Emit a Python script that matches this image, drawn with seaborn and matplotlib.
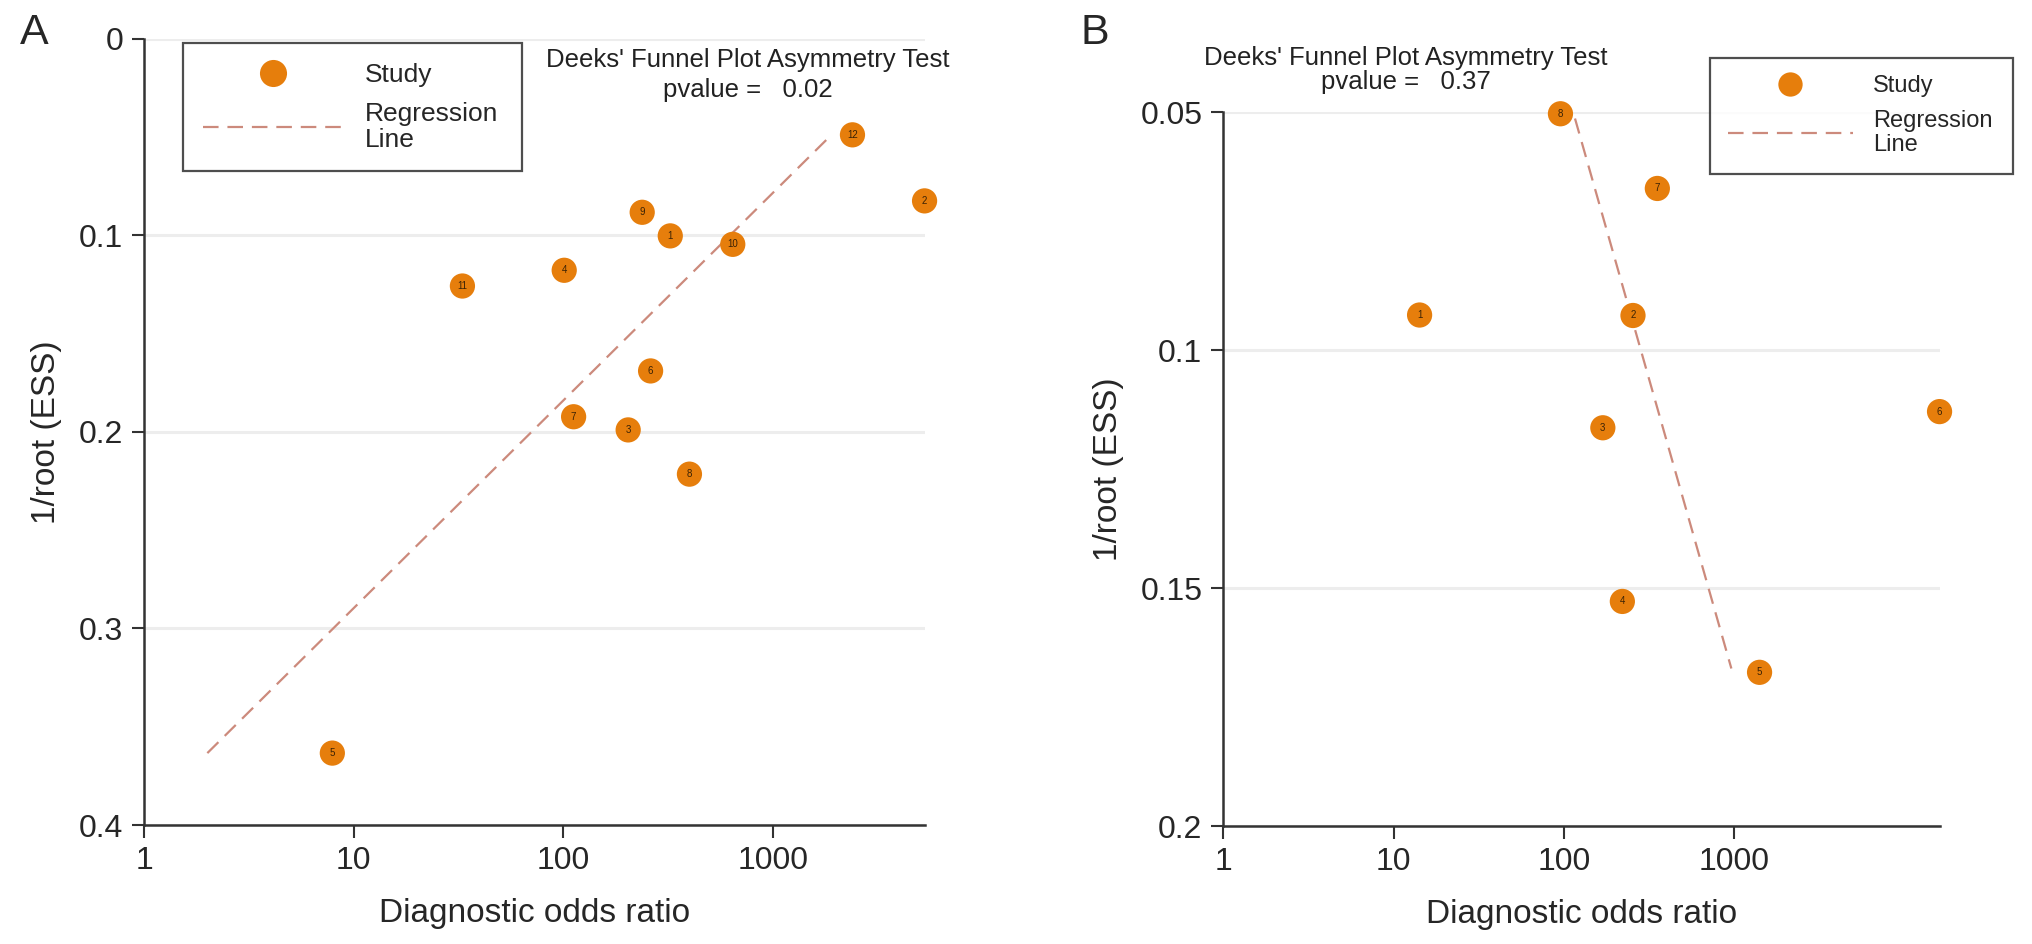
import pandas as pd
import matplotlib
matplotlib.use("Agg")
import matplotlib.pyplot as plt
import seaborn as sns
from matplotlib.lines import Line2D

# Panel A - studies (diagnostic odds ratio, 1/root(ESS))
a_study = ["12", "2", "9", "1", "10", "4", "11", "6", "7", "3", "8", "5"]
a_dor = [2400, 5300, 238, 324, 644, 101, 33, 261, 112, 204, 400, 7.9]
a_ess = [0.0489, 0.0825, 0.0883, 0.1003, 0.1046, 0.1178, 0.1258, 0.169, 0.1923, 0.199, 0.2215, 0.3634]
a_reg_x = [2.0, 1905]
a_reg_y = [0.3634, 0.0489]
a_pvalue = "0.02"

# Panel B
b_study = ["8", "7", "1", "2", "6", "3", "4", "5"]
b_dor = [95.3, 353, 14.2, 254, 16000, 169, 220, 1405]
b_ess = [0.0503, 0.066, 0.0926, 0.0927, 0.1129, 0.1163, 0.1528, 0.1677]
b_reg_x = [116, 960]
b_reg_y = [0.0513, 0.1669]
b_pvalue = "0.37"

sns.set_style("white")
plt.rcParams['font.family'] = ['Liberation Sans', 'DejaVu Sans']

dot_color = "#e67e0c"
reg_color = "#cc8a7c"
grid_color = "#ededed"
spine_color = "#333333"

fig = plt.figure(figsize=(20.32, 9.44), dpi=100)
axA = fig.add_axes([0.071, 0.126, 0.384, 0.833])
axB = fig.add_axes([0.602, 0.125, 0.3525, 0.756])


def funnel(ax, study, dor, ess, reg_x, reg_y, ylim, yticks, ylabels, xmax):
    df = pd.DataFrame({"dor": dor, "ess": ess, "study": study})
    for t in yticks:
        ax.axhline(t, color=grid_color, lw=2.2, zorder=0)
    sns.lineplot(x=reg_x, y=reg_y, ax=ax, color=reg_color, lw=1.6,
                 zorder=2, legend=False)
    ax.lines[-1].set_linestyle((0, (7, 4)))
    sns.scatterplot(data=df, x="dor", y="ess", ax=ax, color=dot_color, s=330,
                    edgecolor="none", zorder=3, clip_on=False, legend=False)
    for _, r in df.iterrows():
        ax.text(r["dor"], r["ess"], r["study"], ha="center", va="center",
                fontsize=7, color="#3b2205", zorder=4)
    ax.set_xscale("log")
    ax.set_xlim(1, xmax)
    ax.set_ylim(ylim[1], ylim[0])
    ax.set_xticks([1, 10, 100, 1000])
    ax.set_xticklabels(["1", "10", "100", "1000"])
    ax.minorticks_off()
    ax.set_yticks(yticks)
    ax.set_yticklabels(ylabels)
    ax.tick_params(axis="both", labelsize=23, length=9, width=1.5,
                   color=spine_color, direction="out", pad=6,
                   bottom=True, left=True)
    for side in ["top", "right"]:
        ax.spines[side].set_visible(False)
    for side in ["left", "bottom"]:
        ax.spines[side].set_color(spine_color)
        ax.spines[side].set_linewidth(1.8)
    ax.set_xlabel("Diagnostic odds ratio", fontsize=24, labelpad=16)
    ax.set_ylabel("1/root (ESS)", fontsize=24, labelpad=12)


funnel(axA, a_study, a_dor, a_ess, a_reg_x, a_reg_y, (0, 0.4),
       [0, 0.1, 0.2, 0.3, 0.4], ["0", "0.1", "0.2", "0.3", "0.4"], 5300)
funnel(axB, b_study, b_dor, b_ess, b_reg_x, b_reg_y, (0.05, 0.2),
       [0.05, 0.1, 0.15, 0.2], ["0.05", "0.1", "0.15", "0.2"], 16000)

labels = ["Study", "Regression\nLine"]

# legend boxes: (x, y, w, h) in figure fraction, font size, marker size
legend_specs = [
    ((0.0900, 0.817, 0.1668, 0.137), 19, 19.5),
    ((0.8415, 0.816, 0.1490, 0.123), 17, 17.5),
]
for bbox, fs, ms in legend_specs:
    handles = [
        Line2D([], [], marker="o", color="none", markerfacecolor=dot_color,
               markeredgecolor="none", markersize=ms),
        Line2D([], [], color=reg_color, lw=1.6, linestyle=(0, (7, 4))),
    ]
    leg = fig.legend(handles, labels, loc="upper left", bbox_to_anchor=bbox,
                     mode="expand", borderaxespad=0, fontsize=fs,
                     frameon=True, fancybox=False, edgecolor="#222222",
                     handlelength=5.3, handletextpad=0.85,
                     labelspacing=0.55, borderpad=0.75)
    leg.get_frame().set_linewidth(1.6)
    for t in leg.get_texts():
        t.set_linespacing(1.1)

# test text
fig.text(0.368, 0.936, "Deeks' Funnel Plot Asymmetry Test", ha="center",
         va="center", fontsize=18.5, color="#222222")
fig.text(0.368, 0.905, "pvalue =   " + a_pvalue, ha="center", va="center",
         fontsize=18.5, color="#222222")
fig.text(0.692, 0.9386, "Deeks' Funnel Plot Asymmetry Test", ha="center",
         va="center", fontsize=18.5, color="#222222")
fig.text(0.692, 0.913, "pvalue =   " + b_pvalue, ha="center", va="center",
         fontsize=18.5, color="#222222")

fig.text(0.017, 0.965, "A", ha="center", va="center", fontsize=31)
fig.text(0.539, 0.965, "B", ha="center", va="center", fontsize=31)

fig.savefig("out.png", dpi=100)
